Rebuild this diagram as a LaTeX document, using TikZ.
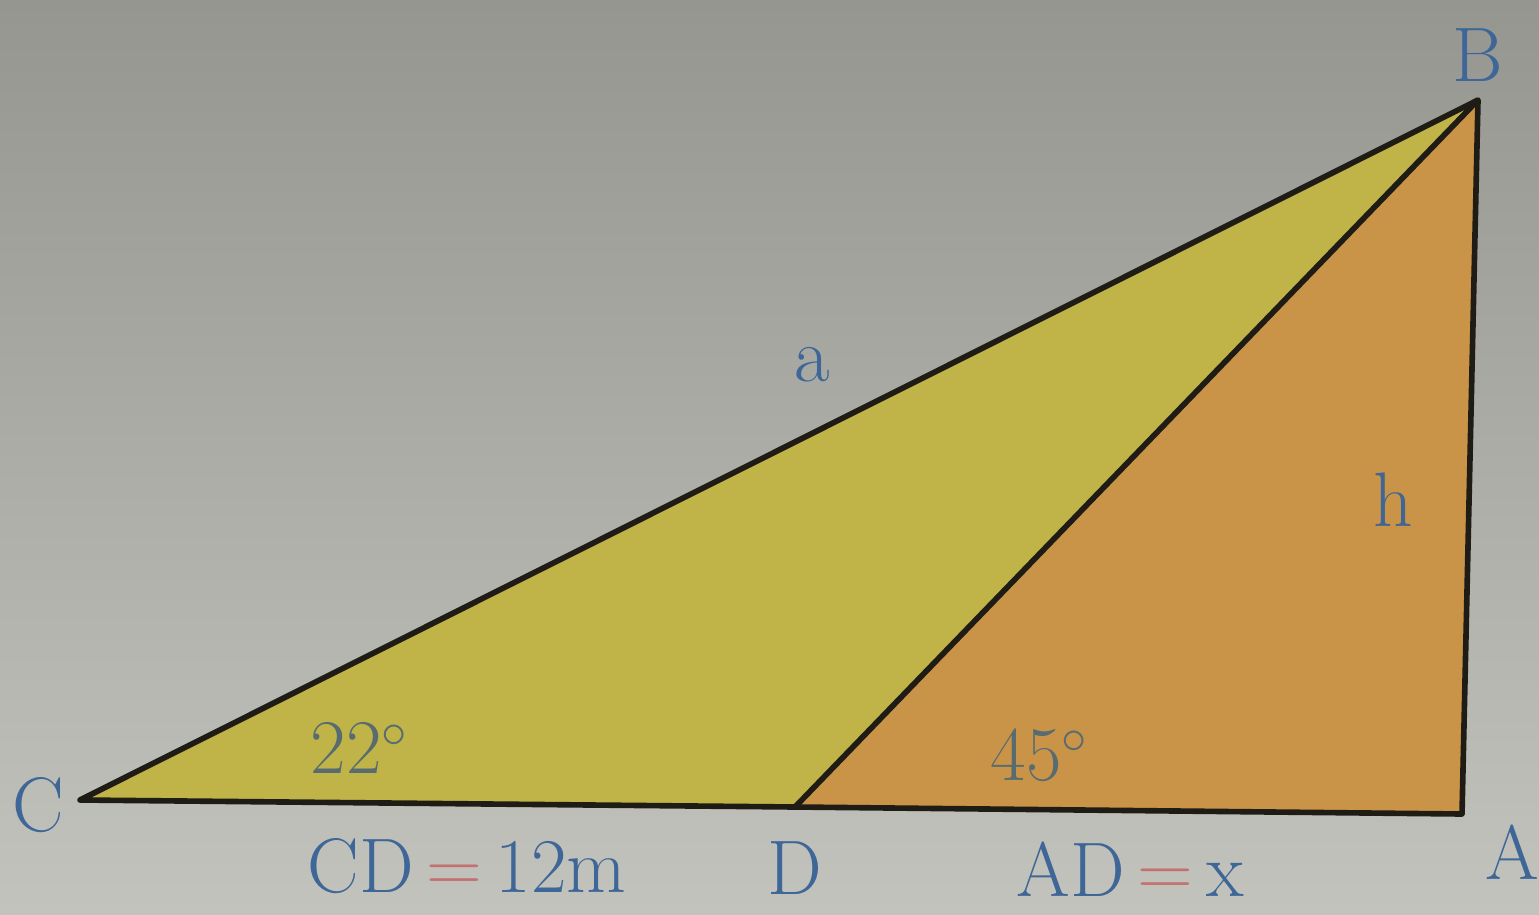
\documentclass[tikz,border=0pt]{standalone}
\usetikzlibrary{calc}
\definecolor{bgtop}{RGB}{150,150,145}
\definecolor{bgbot}{RGB}{195,195,190}
\definecolor{yfill}{RGB}{192,180,72}
\definecolor{ofill}{RGB}{202,148,72}
\definecolor{lblue}{RGB}{62,102,150}
\definecolor{angc}{RGB}{88,108,112}
\definecolor{eqred}{RGB}{196,112,112}
\definecolor{edge}{RGB}{30,28,20}
\tikzset{
  side/.style={draw=edge,line width=1.6pt,line join=round},
  vlabel/.style={text=lblue,font=\fontsize{22}{26}\selectfont,inner sep=0pt},
  alabel/.style={text=angc,font=\fontsize{22}{26}\selectfont,inner sep=0pt}
}
\begin{document}
\begin{tikzpicture}
\shade[top color=bgtop,bottom color=bgbot] (0,0) rectangle (15.39,9.14);
\useasboundingbox (0,0) rectangle (15.39,9.14);
\coordinate (C) at (0.80,1.14);
\coordinate (D) at (7.95,1.07);
\coordinate (A) at (14.62,1.00);
\coordinate (B) at (14.78,8.14);
\fill[yfill] (C) -- (D) -- (B) -- cycle;
\fill[ofill] (D) -- (A) -- (B) -- cycle;
\draw[side] (C) -- (D) -- (A) -- (B) -- cycle;
\draw[side] (D) -- (B);
\node[vlabel] (lB) at (14.78,8.59) {B};
\node[vlabel] (lC) at (0.38,1.09) {C};
\node[vlabel] (lA) at (15.12,0.62) {A};
\node[vlabel] (lD) at (7.95,0.46) {D};
\node[vlabel] (la) at (8.12,5.49) {a};
\node[vlabel] (lh) at (13.93,4.14) {h};
\node[alabel] (ang1) at (3.60,1.66) {22$^\circ$};
\node[alabel] (ang2) at (10.40,1.59) {45$^\circ$};
\node[vlabel] (cd) at (4.67,0.48) {CD\,{\color{eqred}=}\,12m};
\node[vlabel] (ad) at (11.30,0.45) {AD\,{\color{eqred}=}\,x};
\end{tikzpicture}
\end{document}
